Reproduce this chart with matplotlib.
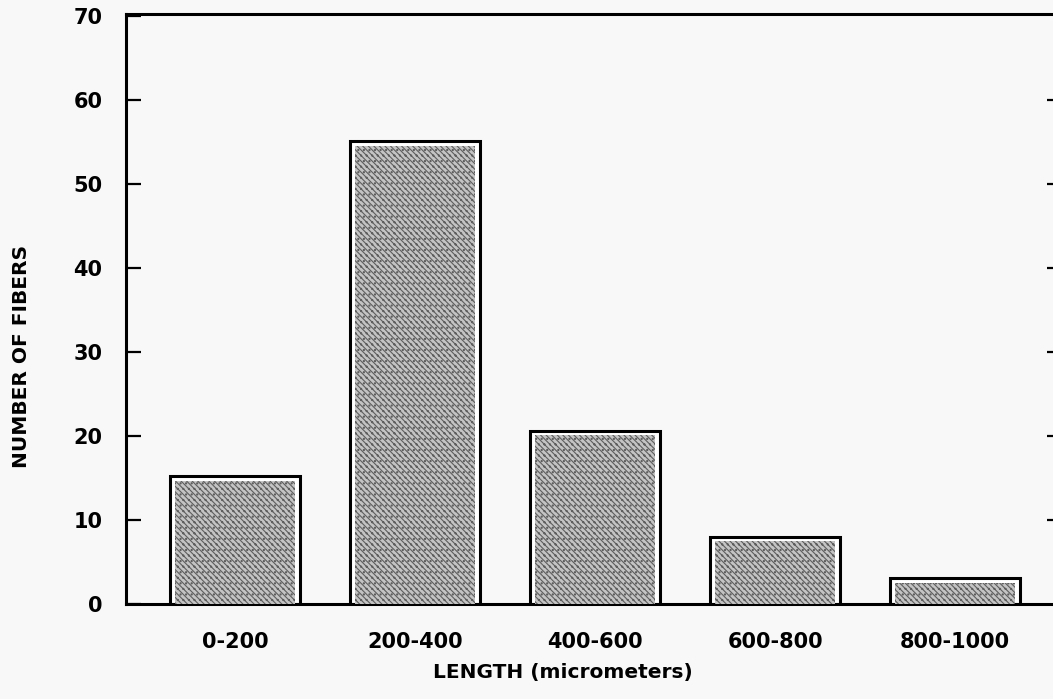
import matplotlib
matplotlib.use("Agg")
import matplotlib.pyplot as plt
import numpy as np

### Data ###
categories = ["0-200", "200-400", "400-600", "600-800", "800-1000"]
fibers = [15.2, 55.1, 20.6, 8.0, 3.1]
yticks = [0, 10, 20, 30, 40, 50, 60, 70]

### Style ###
plt.rcParams["font.family"] = ["DejaVu Sans"]
plt.rcParams["font.weight"] = "bold"
plt.rcParams["hatch.linewidth"] = 0.8
bg = "#f8f8f8"

fig = plt.figure(figsize=(10.53, 6.99), dpi=100, facecolor=bg)
W, H = 1053, 699
# axes box in pixels: left 126, right 1055, top 14, bottom 604
ax = fig.add_axes([126 / W, 95 / H, 929 / W, 590 / H], facecolor=bg)

x = np.arange(len(categories))
# outer bar: black outline with white gap inside
ax.bar(x, fibers, width=0.72, color="white", edgecolor="black", linewidth=2.2, zorder=2)
# inner stippled fill
inset = 0.55
inner = [max(v - inset, 0) for v in fibers]
ax.bar(x, inner, width=0.665, color="#c4c4c4", edgecolor="#5e5e5e",
       linewidth=0, hatch="\\\\\\\\\\\\...", zorder=3)

ax.set_xlim(-0.606, 4.555)
ax.set_ylim(0, 70.2)

# spines
for s in ["left", "top", "bottom"]:
    ax.spines[s].set_linewidth(2.2)
ax.spines["right"].set_visible(False)

ax.set_xticks(x)
ax.set_xticklabels(categories)
ax.tick_params(axis="x", length=0, pad=20, labelsize=15)
ax.set_yticks(yticks)
ax.tick_params(axis="y", direction="in", length=11, width=1.6, pad=17, labelsize=15)

# short inward ticks on the right side
ax2 = ax.twinx()
ax2.set_ylim(ax.get_ylim())
ax2.set_yticks(yticks[1:-1])
ax2.tick_params(axis="y", direction="in", length=5.5, width=1.6, labelright=False)
for s in ax2.spines.values():
    s.set_visible(False)

ax.set_ylabel("NUMBER OF FIBERS", fontsize=14.5, fontweight="bold")
ax.yaxis.set_label_coords(-95 / 929, (604 - 356) / 590)
ax.set_xlabel("LENGTH (micrometers)", fontsize=14.5, fontweight="bold")
ax.xaxis.set_label_coords((563 - 126) / 929, -59 / 590)

fig.savefig("out.png", dpi=100, facecolor=bg)
